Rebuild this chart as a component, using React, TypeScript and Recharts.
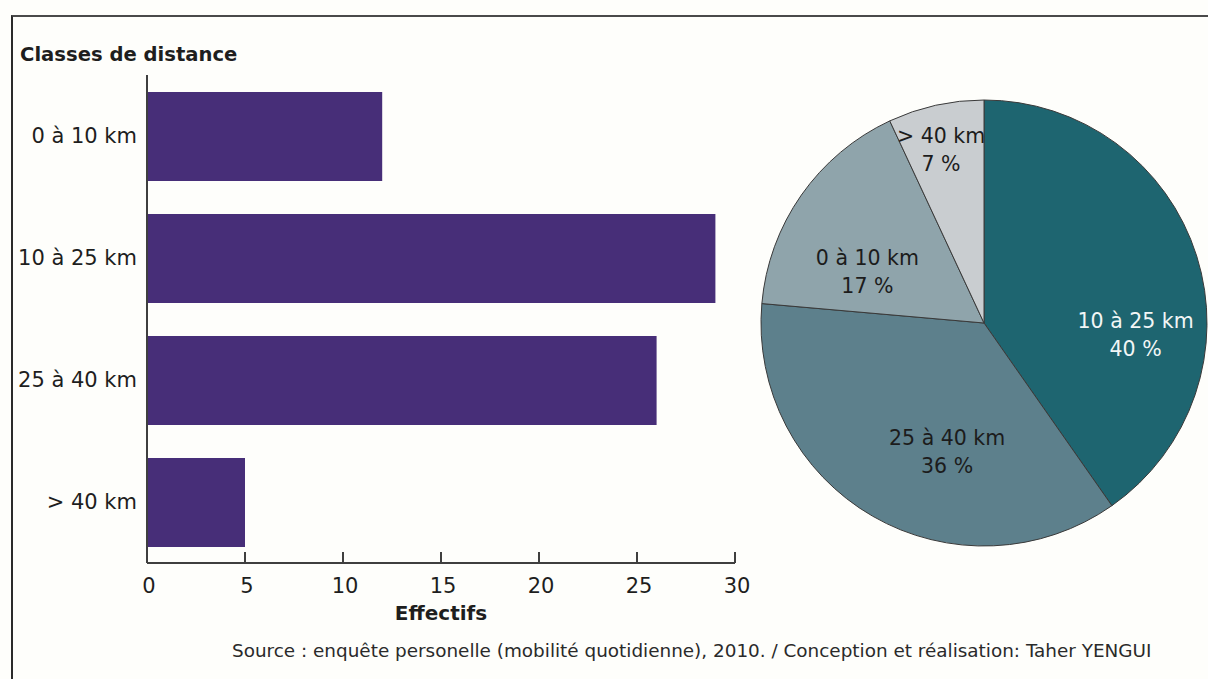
import React from 'react';
import { BarChart, Bar, XAxis, YAxis, PieChart, Pie, Cell, Label } from 'recharts';

const categories = ['0 à 10 km', '10 à 25 km', '25 à 40 km', '> 40 km'];
const effectifs = [12, 29, 26, 5];
const xTicks = [0, 5, 10, 15, 20, 25, 30];

const pieOrder = ['10 à 25 km', '25 à 40 km', '0 à 10 km', '> 40 km'];
const piePercents = ['40 %', '36 %', '17 %', '7 %'];
const pieColors = ['#1e6570', '#5d808c', '#8fa4ab', '#c9cdd0'];
const pieLabelColors = ['#f2f6f6', '#1c1c1c', '#1c1c1c', '#1c1c1c'];
const pieLabelNudges = [
  [24, 50],
  [30, 11],
  [-7, 24],
  [-14, -44],
];

const titleText = 'Classes de distance';
const xAxisTitle = 'Effectifs';
const sourceText =
  'Source : enquête personelle (mobilité quotidienne), 2010. / Conception et réalisation: Taher YENGUI';

const FONT = '"DejaVu Sans", Verdana, sans-serif';
const BAR_COLOR = '#472e78';
const AXIS_COLOR = '#3f3f3f';

const barData = categories.map((name, i) => ({ name, value: effectifs[i] }));
const pieData = pieOrder.map((name, i) => ({
  name,
  value: effectifs[categories.indexOf(name)],
  pct: piePercents[i],
}));

const XTick = (props: any) => {
  const { x, y, payload } = props;
  return (
    <g>
      <line x1={x} x2={x} y1={y - 11} y2={y} stroke={AXIS_COLOR} strokeWidth={2} />
      <text
        x={x + 2}
        y={y + 30}
        textAnchor="middle"
        fontFamily={FONT}
        fontSize={21}
        fill="#1e1e1e"
      >
        {payload.value}
      </text>
    </g>
  );
};

const RAD = Math.PI / 180;
const renderPieLabel = (props: any) => {
  const { cx, cy, midAngle, outerRadius, index } = props;
  const r = outerRadius * 0.6;
  const [nx, ny] = pieLabelNudges[index];
  const x = cx + r * Math.cos(-midAngle * RAD) + nx;
  const y = cy + r * Math.sin(-midAngle * RAD) + ny;
  const d = pieData[index];
  return (
    <text
      textAnchor="middle"
      fontFamily={FONT}
      fontSize={20.5}
      fill={pieLabelColors[index]}
    >
      <tspan x={x} y={y - 5}>
        {d.name}
      </tspan>
      <tspan x={x} y={y + 23}>
        {d.pct}
      </tspan>
    </text>
  );
};

export default function App() {
  return (
    <div
      style={{
        position: 'absolute',
        left: 0,
        top: 0,
        width: 1208,
        height: 679,
        overflow: 'hidden',
        background: '#fefefb',
        fontFamily: FONT,
      }}
    >
      <div
        style={{
          position: 'absolute',
          left: 11,
          top: 15,
          width: 1400,
          height: 900,
          borderTop: '2px solid #4a4a4a',
          borderLeft: '2px solid #2a2a2a',
        }}
      />
      <div style={{ position: 'absolute', left: 0, top: 0 }}>
        <BarChart
          width={760}
          height={679}
          data={barData}
          layout="vertical"
          margin={{ top: 75, right: 25, bottom: 86, left: 0 }}
        >
          <XAxis
            type="number"
            domain={[0, 30]}
            ticks={xTicks}
            interval={0}
            height={30}
            tickSize={0}
            tickMargin={0}
            tickLine={false}
            axisLine={{ stroke: AXIS_COLOR, strokeWidth: 2 }}
            tick={<XTick />}
          >
            <Label
              value={xAxisTitle}
              position="bottom"
              offset={13}
              style={{ fontFamily: FONT, fontSize: 20, fontWeight: 'bold', fill: '#1e1e1e' }}
            />
          </XAxis>
          <YAxis
            type="category"
            dataKey="name"
            width={147}
            tickSize={0}
            tickMargin={10}
            tickLine={false}
            axisLine={{ stroke: AXIS_COLOR, strokeWidth: 2 }}
            tick={{ fontFamily: FONT, fontSize: 21, fill: '#1e1e1e' }}
          />
          <Bar dataKey="value" fill={BAR_COLOR} barSize={89} isAnimationActive={false} />
        </BarChart>
      </div>
      <div style={{ position: 'absolute', left: 740, top: 80 }}>
        <PieChart width={468} height={490}>
          <Pie
            data={pieData}
            dataKey="value"
            nameKey="name"
            cx={239}
            cy={238}
            outerRadius={223}
            startAngle={90}
            endAngle={-270}
            stroke="#3a3a3a"
            strokeWidth={1}
            label={renderPieLabel}
            labelLine={false}
            isAnimationActive={false}
          >
            {pieData.map((d, i) => (
              <Cell key={d.name} fill={pieColors[i]} />
            ))}
          </Pie>
        </PieChart>
      </div>
      <svg
        width={1208}
        height={679}
        style={{ position: 'absolute', left: 0, top: 0, pointerEvents: 'none' }}
      >
        <text x={20} y={61} fontFamily={FONT} fontSize={19.6} fontWeight="bold" fill="#1e1e1e">
          {titleText}
        </text>
        <text x={232} y={657} fontFamily={FONT} fontSize={18.4} fill="#2a2a2a">
          {sourceText}
        </text>
      </svg>
    </div>
  );
}
